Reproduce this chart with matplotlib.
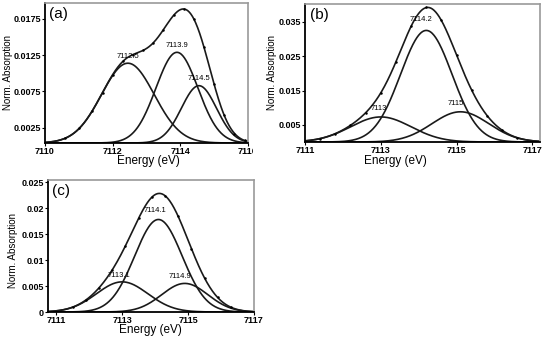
import numpy as np
import matplotlib
matplotlib.use("Agg")
import matplotlib.pyplot as plt
from matplotlib.transforms import Bbox, TransformedBbox

plt.rcParams['font.family'] = ['Liberation Sans', 'DejaVu Sans']

# peak fits: centre (eV), height, sigma (eV)
# panel (a)
a_centre = [7112.45, 7113.9, 7114.55]
a_height = [0.0110, 0.0125, 0.0079]
a_sigma = [0.78, 0.62, 0.52]
a_base = 0.0004
a_labels = ["7112.5", "7113.9", "7114.5"]
a_lab_x = [7112.45, 7113.9, 7114.55]
a_lab_y = [0.0118, 0.0134, 0.0088]
a_dot_e = [7110.6, 7111.0, 7111.4, 7111.7, 7112.0, 7112.3, 7112.6, 7112.9, 7113.2,
           7113.5, 7113.8, 7114.1, 7114.4, 7114.7, 7115.0, 7115.3, 7115.6, 7115.9]
a_dot_y = [0.0011, 0.0024, 0.0048, 0.0073, 0.0098, 0.0117, 0.0126, 0.0132, 0.0142,
           0.0160, 0.0180, 0.0189, 0.0175, 0.0136, 0.0085, 0.0042, 0.0017, 0.0008]

# panel (b)
b_centre = [7113.0, 7114.2, 7115.1]
b_height = [0.0073, 0.0325, 0.0088]
b_sigma = [0.80, 0.68, 0.75]
b_labels = ["7113", "7114.2", "7115"]
b_lab_x = [7112.95, 7114.05, 7114.97]
b_lab_y = [0.0086, 0.0346, 0.0102]
b_dot_e = [7111.4, 7111.8, 7112.2, 7112.6, 7113.0, 7113.4, 7113.8, 7114.2,
           7114.6, 7115.0, 7115.4, 7115.8, 7116.2, 7116.6]
b_dot_y = [0.0010, 0.0024, 0.0049, 0.0085, 0.0143, 0.0234, 0.0337, 0.0392,
           0.0354, 0.0253, 0.0151, 0.0077, 0.0034, 0.0013]

# panel (c)
c_centre = [7113.0, 7114.1, 7114.9]
c_height = [0.0058, 0.0178, 0.0055]
c_sigma = [0.78, 0.72, 0.70]
c_labels = ["7113.1", "7114.1", "7114.9"]
c_lab_x = [7112.9, 7114.0, 7114.75]
c_lab_y = [0.0063, 0.0189, 0.0061]
c_dot_e = [7111.5, 7111.9, 7112.3, 7112.7, 7113.1, 7113.5, 7113.9, 7114.3,
           7114.7, 7115.1, 7115.5, 7115.9, 7116.3]
c_dot_y = [0.0009, 0.0023, 0.0047, 0.0081, 0.0127, 0.0180, 0.0221, 0.0224,
           0.0184, 0.0122, 0.0065, 0.0028, 0.0009]

W, H = 545, 337
fig = plt.figure(figsize=(W / 100, H / 100), dpi=100)

def box(l, r, t, b):
    return [l / W, 1 - b / H, (r - l) / W, (b - t) / H]

lc = '#1a1a1a'

def panel(rect, xlim, ylim, xt, yt, ytl, centre, height, sigma, base,
          labels, lx, ly, de, dy, letter):
    ax = fig.add_axes(rect)
    e = np.linspace(xlim[0], xlim[1], 400)
    total = np.zeros_like(e) + base
    for c, h, s in zip(centre, height, sigma):
        g = h * np.exp(-(e - c) ** 2 / (2 * s ** 2))
        total += g
        ax.plot(e, g + base, color=lc, lw=1.2)
    ax.plot(e, total, color=lc, lw=1.2)
    ax.plot(de, dy, 'o', color='k', ms=1.8, mew=0)
    for t, x, y in zip(labels, lx, ly):
        ax.text(x, y, t, fontsize=5.5, ha='center', va='bottom', color='k')
    ax.set_xlim(xlim)
    ax.set_ylim(ylim)
    ax.set_xticks(xt)
    ax.set_yticks(yt)
    ax.set_yticklabels(ytl)
    ax.tick_params(labelsize=6.5, length=2, width=0.8, pad=1)
    for lab in ax.get_xticklabels() + ax.get_yticklabels():
        lab.set_fontweight('bold')
    for s in ['top', 'right']:
        ax.spines[s].set_color('#9a9a9a')
        ax.spines[s].set_linewidth(1.2)
    for s in ['left', 'bottom']:
        ax.spines[s].set_color('k')
        ax.spines[s].set_linewidth(1.3)
    ax.text(0.02, 0.97, letter, transform=ax.transAxes, fontsize=11,
            ha='left', va='top')
    return ax

ax1 = panel(box(45, 248, 3, 143), (7110, 7116), (0.0004, 0.0197),
            [7110, 7112, 7114, 7116], [0.0025, 0.0075, 0.0125, 0.0175],
            ["0.0025", "0.0075", "0.0125", "0.0175"],
            a_centre, a_height, a_sigma, a_base, a_labels, a_lab_x, a_lab_y,
            a_dot_e, a_dot_y, "(a)")
ax2 = panel(box(305, 540, 4, 142), (7111, 7117.2), (0.0, 0.0402),
            [7111, 7113, 7115, 7117], [0.005, 0.015, 0.025, 0.035],
            ["0.005", "0.015", "0.025", "0.035"],
            b_centre, b_height, b_sigma, 0.0, b_labels, b_lab_x, b_lab_y,
            b_dot_e, b_dot_y, "(b)")
ax3 = panel(box(48, 254, 180, 312), (7110.75, 7116.95), (0.0, 0.0254),
            [7111, 7113, 7115, 7117], [0, 0.005, 0.01, 0.015, 0.02, 0.025],
            ["0", "0.005", "0.01", "0.015", "0.02", "0.025"],
            c_centre, c_height, c_sigma, 0.0, c_labels, c_lab_x, c_lab_y,
            c_dot_e, c_dot_y, "(c)")

# the right end of panel (a) is cut off in the original
clip = TransformedBbox(Bbox([[0, 0], [253 / W, 1]]), fig.transFigure)
last = ax1.get_xticklabels()[-1]
last.set_clip_box(clip)
last.set_clip_on(True)

fig.text(148 / W, 1 - 161 / H, "Energy (eV)", fontsize=8.5, ha='center', va='center')
fig.text(395 / W, 1 - 161 / H, "Energy (eV)", fontsize=8.5, ha='center', va='center')
fig.text(150 / W, 1 - 330 / H, "Energy (eV)", fontsize=8.5, ha='center', va='center')
fig.text(8 / W, 1 - 73 / H, "Norm. Absorption", fontsize=7, rotation=90,
         ha='center', va='center')
fig.text(272 / W, 1 - 73 / H, "Norm. Absorption", fontsize=7, rotation=90,
         ha='center', va='center')
fig.text(13 / W, 1 - 250 / H, "Norm. Absorption", fontsize=7, rotation=90,
         ha='center', va='center')

fig.savefig("out.png", dpi=100)
